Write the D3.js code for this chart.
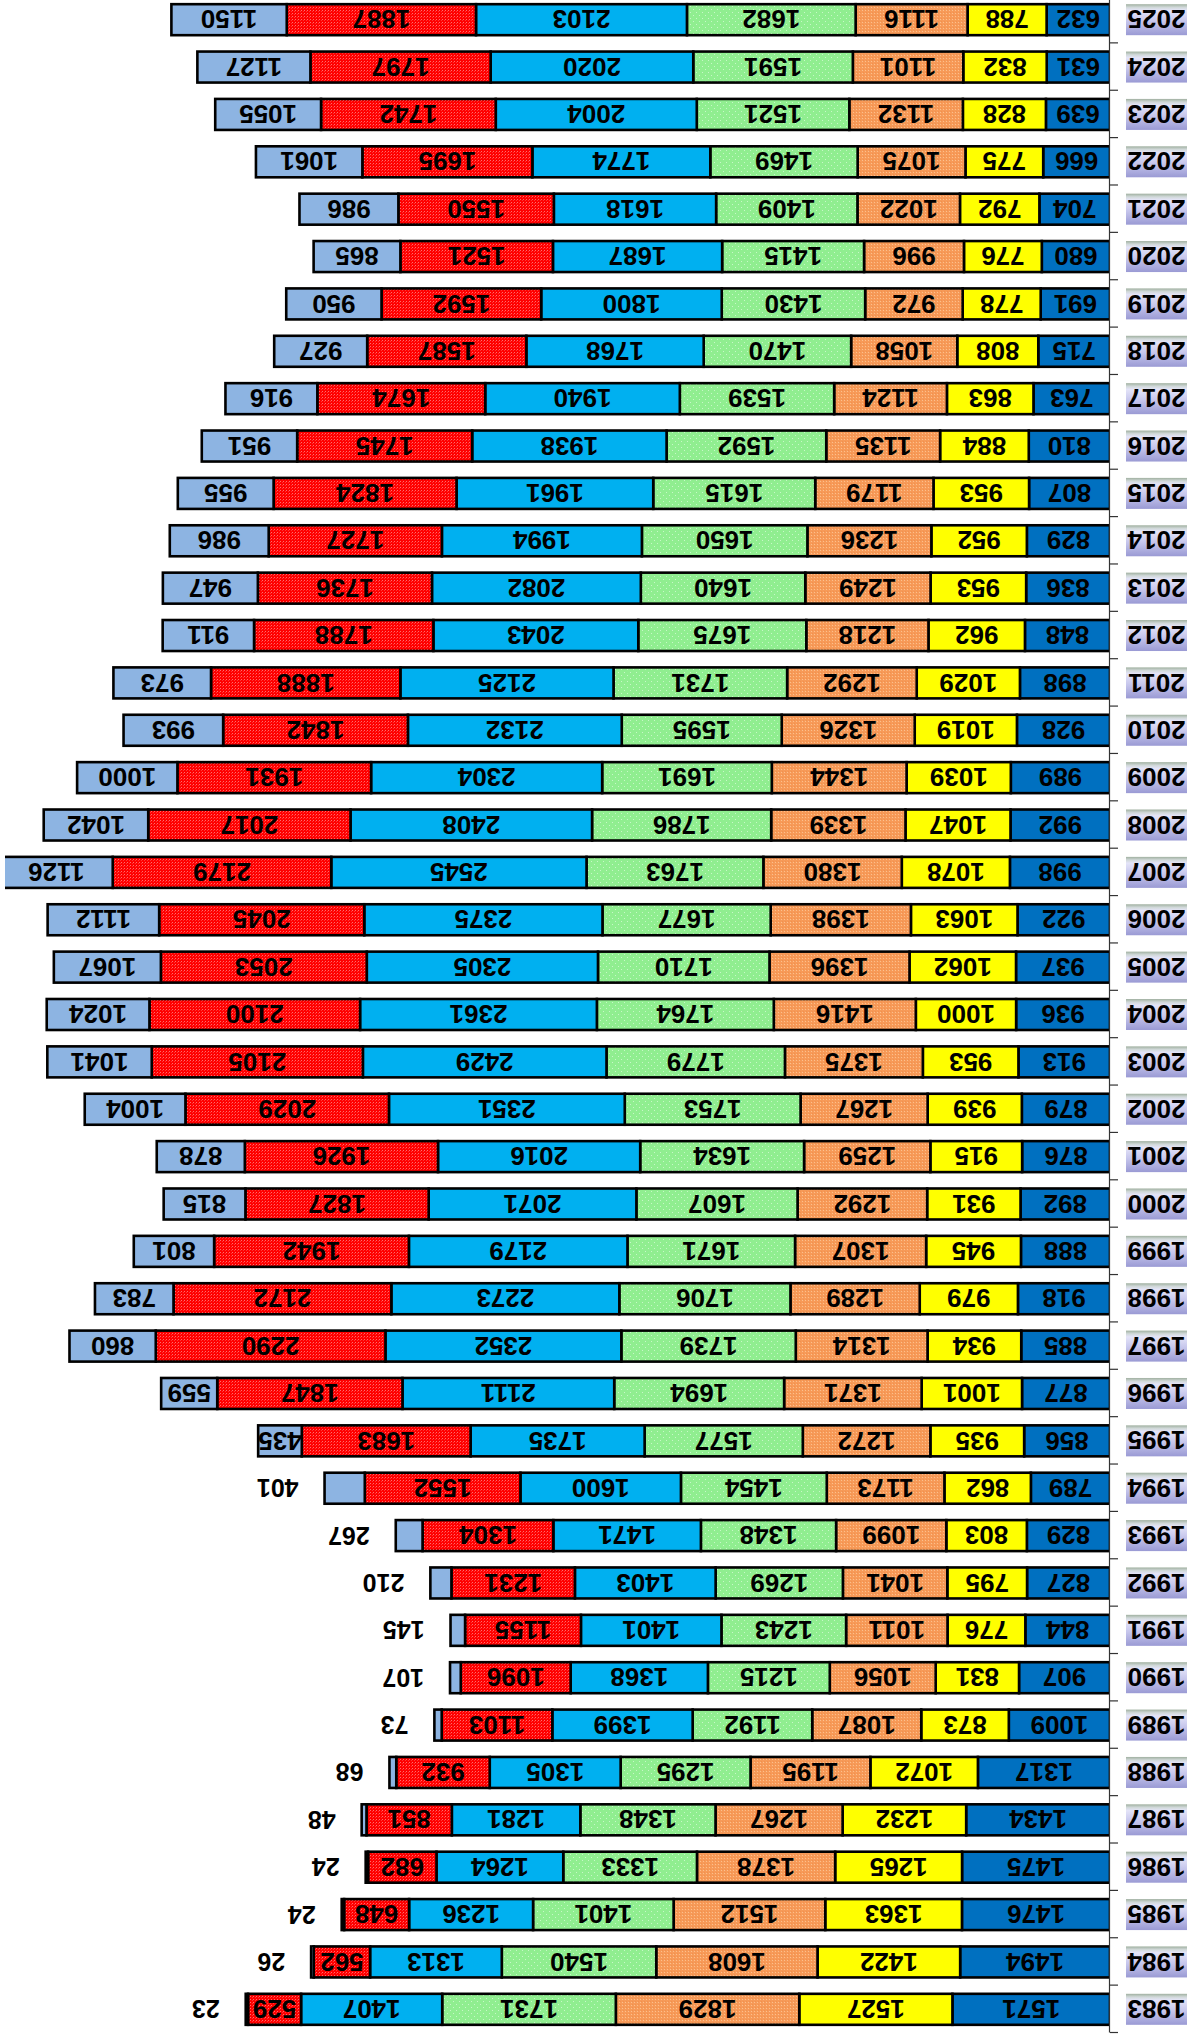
<!DOCTYPE html>
<html><head><meta charset="utf-8">
<script src="https://cdn.jsdelivr.net/npm/d3@7"></script>
<style>body{margin:0;background:#fff}svg{display:block}</style>
</head><body>
<script>
const years = [1983,1984,1985,1986,1987,1988,1989,1990,1991,1992,1993,1994,1995,1996,1997,1998,1999,2000,2001,2002,2003,2004,2005,2006,2007,2008,2009,2010,2011,2012,2013,2014,2015,2016,2017,2018,2019,2020,2021,2022,2023,2024,2025];
const seriesA = [1571,1494,1476,1475,1434,1317,1009,907,844,827,829,789,856,877,885,918,888,892,876,879,913,936,937,922,998,992,989,928,898,848,836,829,807,810,763,715,691,680,704,666,639,631,632];
const seriesB = [1527,1422,1363,1265,1232,1072,873,831,776,795,803,862,935,1001,934,979,945,931,915,939,953,1000,1062,1063,1078,1047,1039,1019,1029,962,953,952,953,884,863,808,778,776,792,775,828,832,788];
const seriesC = [1829,1608,1512,1378,1267,1195,1087,1056,1011,1041,1099,1173,1272,1371,1314,1289,1307,1292,1259,1267,1375,1416,1396,1398,1380,1339,1344,1326,1292,1218,1249,1236,1179,1135,1124,1058,972,996,1022,1075,1132,1101,1116];
const seriesD = [1731,1540,1401,1333,1348,1295,1192,1215,1243,1269,1348,1454,1577,1694,1739,1706,1671,1607,1634,1753,1779,1764,1710,1677,1763,1786,1691,1595,1731,1675,1640,1650,1615,1592,1539,1470,1430,1415,1409,1469,1521,1591,1682];
const seriesE = [1407,1313,1236,1264,1281,1305,1399,1368,1401,1403,1471,1600,1735,2111,2352,2273,2179,2071,2016,2351,2429,2361,2305,2375,2545,2408,2304,2132,2125,2043,2082,1994,1961,1938,1940,1768,1800,1687,1618,1774,2004,2020,2103];
const seriesF = [529,562,648,682,851,932,1103,1096,1155,1231,1304,1552,1683,1847,2290,2172,1942,1827,1926,2029,2105,2100,2053,2045,2179,2017,1931,1842,1888,1788,1736,1727,1824,1745,1674,1587,1592,1521,1550,1695,1742,1797,1887];
const seriesG = [23,26,24,24,48,68,73,107,145,210,267,401,435,559,860,783,801,815,878,1004,1041,1024,1067,1112,1126,1042,1000,993,973,911,947,986,955,951,916,927,950,865,986,1061,1055,1127,1150];
const keys = ["A","B","C","D","E","F","G"];
const seriesList = [seriesA,seriesB,seriesC,seriesD,seriesE,seriesF,seriesG];

const W = 1196, H = 2036;
const fills = {A:"#0070C0",B:"#FFFF00",C:"url(#pOrange)",D:"url(#pGreen)",E:"#00B0F0",F:"url(#pRed)",G:"#8DB4E2"};

const rows = years.map((y,i)=>{const o={year:y}; keys.forEach((k,j)=>o[k]=seriesList[j][i]); return o;});
const stacked = d3.stack().keys(keys)(rows);

const svg = d3.select("body").append("svg").attr("width",W).attr("height",H);
svg.append("rect").attr("width",W).attr("height",H).attr("fill","#fff");
const defs = svg.append("defs");

function pat(id,size,base,dots){
  const p = defs.append("pattern").attr("id",id).attr("patternUnits","userSpaceOnUse").attr("width",size).attr("height",size);
  p.append("rect").attr("width",size).attr("height",size).attr("fill",base);
  dots.forEach(d=>p.append("rect").attr("x",d[0]).attr("y",d[1]).attr("width",1).attr("height",1).attr("fill",d[2]).attr("opacity",d[3]));
}
pat("pOrange",3,"#F79A58",[[0,0,"#FFD8B0",0.6],[2,1,"#E07830",0.25]]);
pat("pGreen",6,"#90EE90",[[1,1,"#ffffff",0.5],[4,4,"#ffffff",0.5]]);
pat("pRed",3,"#FF0000",[[0,0,"#FF9A9A",0.7],[1,2,"#FFB0B0",0.3]]);

const grad = defs.append("linearGradient").attr("id","yearGrad").attr("x1",0).attr("y1",0).attr("x2",0).attr("y2",1);
[[0,"#9A9AD4"],[0.45,"#C6C6EC"],[0.8,"#E4E4F8"],[0.9,"#D0D8D8"],[1,"#A0B0A0"]].forEach(s=>grad.append("stop").attr("offset",s[0]).attr("stop-color",s[1]));

defs.append("clipPath").attr("id","plotClip").append("rect").attr("x",86).attr("y",0).attr("width",1105).attr("height",H);

const g = svg.append("g").attr("transform",`rotate(180 ${W/2} ${H/2})`);

const x = d3.scaleLinear().domain([0,11000]).range([86,86+1103.3]);
const y = d3.scaleBand().domain(years).range([3,2040]);
const bw = y.bandwidth();
const barH = 31;

const plot = g.append("g").attr("clip-path","url(#plotClip)");
stacked.forEach(layer=>{
  plot.append("g").selectAll("rect").data(layer).join("rect")
    .attr("x",d=>x(d[0])).attr("width",d=>x(d[1])-x(d[0]))
    .attr("y",d=>y(d.data.year)+(bw-barH)/2).attr("height",barH)
    .attr("fill",fills[layer.key]).attr("stroke","#000").attr("stroke-width",2.6);
});

stacked.forEach(layer=>{
  const isLast = layer.key==="G";
  const outside = d => isLast && (d[1]-d[0])<420;
  g.append("g").selectAll("text").data(layer).join("text")
    .attr("x",d=>outside(d) ? x(d[1])+26 : (x(d[0])+x(d[1]))/2)
    .attr("y",d=>y(d.data.year)+bw/2)
    .attr("dy","0.36em")
    .attr("text-anchor",d=>outside(d)?"start":"middle")
    .attr("font-family","'Liberation Sans', Arial, sans-serif")
    .attr("font-weight","bold")
    .attr("font-size",d=>outside(d)?25:26)
    .attr("fill","#000")
    .text(d=>d[1]-d[0]);
});

const yIdx = d3.scaleLinear().domain([0,years.length]).range([3,2040]);
const ax = g.append("g").attr("transform","translate(86,0)")
  .call(d3.axisLeft(yIdx).tickValues(d3.range(0,years.length+1)).tickSize(8).tickSizeOuter(0).tickFormat(""));
ax.selectAll("path,line").attr("stroke","#333").attr("stroke-width",1.2);

const yl = g.append("g").selectAll("g").data(years).join("g")
  .attr("transform",d=>`translate(9,${y(d)+bw/2-15.5})`);
yl.append("rect").attr("width",61).attr("height",31).attr("fill","url(#yearGrad)");
yl.append("text").attr("x",30.5).attr("y",15.5).attr("dy","0.36em").attr("text-anchor","middle")
  .attr("font-family","'Liberation Sans', Arial, sans-serif").attr("font-weight","bold").attr("font-size",26)
  .attr("fill","#000").text(d=>d);
</script>
</body></html>
